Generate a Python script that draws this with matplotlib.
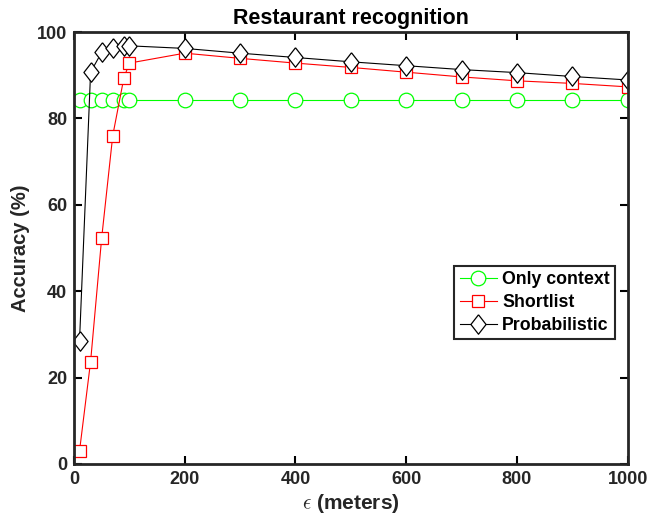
import numpy as np
import matplotlib.pyplot as plt

plt.rcParams['font.family'] = ['Liberation Sans', 'DejaVu Sans']
plt.rcParams['font.weight'] = 'bold'
plt.rcParams['mathtext.fontset'] = 'cm'

# distance threshold (meters)
eps = [10, 30, 50, 70, 90, 100, 200, 300, 400, 500, 600, 700, 800, 900, 1000]

only_context = [84.3] * len(eps)
shortlist = [3.0, 23.7, 52.3, 76.0, 89.3, 92.8, 95.1, 93.9, 92.8, 91.8, 90.7, 89.6, 88.7, 88.1, 87.3]
probabilistic = [28.5, 90.7, 95.3, 96.2, 96.8, 96.8, 96.2, 95.1, 94.1, 93.1, 92.2, 91.3, 90.6, 89.7, 88.9]

# matlab-like diamond, a bit taller than wide
diamond = [(0, 1), (0.78, 0), (0, -1), (-0.78, 0), (0, 1)]

fig = plt.figure(figsize=(6.49, 5.29), dpi=100)
ax = fig.add_axes([0.114, 0.123, 0.853, 0.8165])

ax.plot(eps, only_context, color='#00ff00', lw=0.8, marker='o', ms=10.5,
        mfc='white', mec='#00ff00', mew=0.9, label='Only context')
ax.plot(eps, shortlist, color='red', lw=0.8, marker='s', ms=8.5,
        mfc='white', mec='red', mew=0.9, label='Shortlist')
ax.plot(eps, probabilistic, color='black', lw=0.8, marker=diamond, ms=14,
        mfc='white', mec='black', mew=0.9, label='Probabilistic')

ax.set_xlim(0, 1000)
ax.set_ylim(0, 100)
ax.set_xticks(range(0, 1001, 200))
ax.set_yticks(range(0, 101, 20))
ax.tick_params(direction='in', top=True, right=True, labelsize=13,
               width=1.5, length=6, labelcolor='#262626', pad=5)
for s in ax.spines.values():
    s.set_linewidth(2)
    s.set_color('#262626')

ax.set_title('Restaurant recognition', fontsize=15.5, fontweight='bold', pad=6)
ax.set_xlabel(r'$\epsilon$ (meters)', fontsize=15, fontweight='bold',
              labelpad=3, color='#262626')
ax.set_ylabel('Accuracy (%)', fontsize=14.5, fontweight='bold', labelpad=5,
              color='#262626')

leg = ax.legend(loc='center right', bbox_to_anchor=(0.978, 0.374), fontsize=12.8,
                fancybox=False, edgecolor='#262626', framealpha=1,
                handlelength=2.1, borderpad=0.3, labelspacing=0.33,
                handletextpad=0.3, borderaxespad=0)
leg.get_frame().set_linewidth(1.5)

fig.savefig('out.png', dpi=100)
